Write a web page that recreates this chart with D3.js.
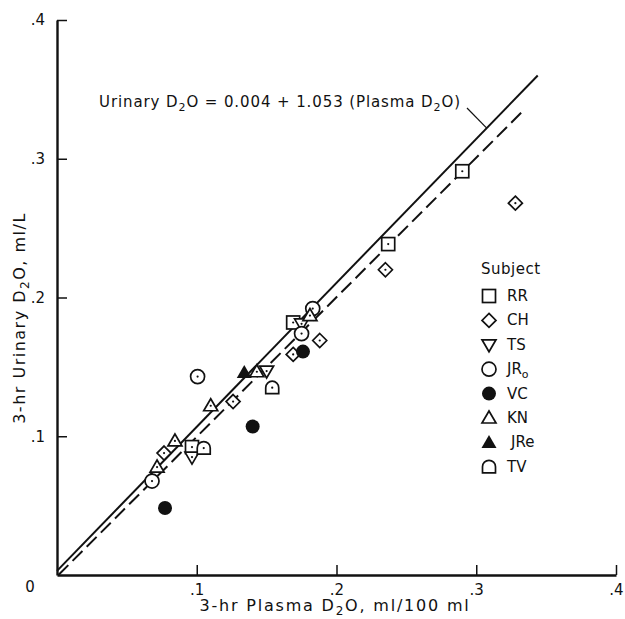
<!DOCTYPE html>
<html>
<head>
<meta charset="utf-8">
<script src="https://d3js.org/d3.v7.min.js"></script>
<style>
  body { margin: 0; background: #fff; }
  svg text { font-family: "DejaVu Sans", sans-serif; fill: #111; }
  .tick text { font-size: 15px; }
</style>
</head>
<body>
<div id="chart"></div>
<script>
// values (plasma D2O, urinary D2O)
const rr  = [[0.290, 0.291], [0.237, 0.2385], [0.169, 0.182], [0.0966, 0.0922]];
const ch  = [[0.328, 0.268], [0.235, 0.220], [0.188, 0.169], [0.169, 0.159], [0.126, 0.125], [0.0766, 0.0879]];
const ts  = [[0.175, 0.181], [0.150, 0.147], [0.0966, 0.085]];
const jro = [[0.183, 0.192], [0.175, 0.174], [0.1006, 0.143], [0.068, 0.0677]];
const vc  = [[0.176, 0.161], [0.140, 0.107], [0.0773, 0.0483]];
const kn  = [[0.181, 0.187], [0.143, 0.1465], [0.110, 0.122], [0.0844, 0.0966], [0.0716, 0.0778]];
const jre = [[0.134, 0.146]];
const tv  = [[0.154, 0.135], [0.105, 0.0915]];

const subjects = ['RR', 'CH', 'TS', 'JRo', 'VC', 'KN', 'JRe', 'TV'];
const symbolTypes = ['square', 'diamond', 'tridown', 'circle', 'dot', 'triangle', 'trifill', 'dome'];
const seriesData = [rr, ch, ts, jro, vc, kn, jre, tv];

const solidLine = [[0, 0.003], [0.344, 0.36]];
const dashedLine = [[0.001, 0], [0.333, 0.334]];

const tickVals = [0.1, 0.2, 0.3, 0.4];
const tickLabels = ['.1', '.2', '.3', '.4'];

const width = 625, height = 619;
const svg = d3.select('#chart').append('svg')
  .attr('width', width).attr('height', height);

const x = d3.scaleLinear().domain([0, 0.4]).range([57, 616]);
const y = d3.scaleLinear().domain([0, 0.4]).range([575, 20]);

// axes
const xAxis = svg.append('g').attr('transform', `translate(0,${y(0)})`)
  .call(d3.axisBottom(x).tickValues(tickVals).tickSize(-10).tickSizeOuter(0)
    .tickPadding(9).tickFormat((d, i) => tickLabels[i]));
const yAxis = svg.append('g').attr('transform', `translate(${x(0)},0)`)
  .call(d3.axisLeft(y).tickValues(tickVals).tickSize(-10).tickSizeOuter(0)
    .tickPadding(12).tickFormat((d, i) => tickLabels[i]));
[xAxis, yAxis].forEach(a => {
  a.select('.domain').attr('stroke', '#111').attr('stroke-width', 2.4);
  a.selectAll('.tick line').attr('stroke', '#111').attr('stroke-width', 1.5);
  a.selectAll('.tick text').attr('fill', '#111');
});
svg.append('text').attr('x', 30).attr('y', 592).attr('text-anchor', 'middle')
  .style('font-size', '15px').text('0');

// axis titles
const xt = svg.append('text').attr('x', 335).attr('y', 611).attr('text-anchor', 'middle')
  .style('font-size', '16px').style('letter-spacing', '1.8px');
xt.append('tspan').text('3-hr  Plasma  D');
xt.append('tspan').attr('dy', 4).style('font-size', '12px').text('2');
xt.append('tspan').attr('dy', -4).text('O,  ml/100 ml');

const yt = svg.append('text').attr('transform', 'translate(25,318) rotate(-90)')
  .attr('text-anchor', 'middle').style('font-size', '16px').style('letter-spacing', '1.5px');
yt.append('tspan').text('3-hr  Urinary  D');
yt.append('tspan').attr('dy', 4).style('font-size', '12px').text('2');
yt.append('tspan').attr('dy', -4).text('O,  ml/L');

// regression lines
const line = d3.line().x(d => x(d[0])).y(d => y(d[1]));
svg.append('path').datum(solidLine).attr('d', line)
  .attr('fill', 'none').attr('stroke', '#111').attr('stroke-width', 2);
svg.append('path').datum(dashedLine).attr('d', line)
  .attr('fill', 'none').attr('stroke', '#111').attr('stroke-width', 2)
  .attr('stroke-dasharray', '14,6');

// equation label with leader
const eq = svg.append('text').attr('x', 99).attr('y', 107)
  .style('font-size', '15px').style('letter-spacing', '0.9px');
eq.append('tspan').text('Urinary  D');
eq.append('tspan').attr('dy', 4).style('font-size', '11px').text('2');
eq.append('tspan').attr('dy', -4).text('O = 0.004 + 1.053 (Plasma  D');
eq.append('tspan').attr('dy', 4).style('font-size', '11px').text('2');
eq.append('tspan').attr('dy', -4).text('O)');
svg.append('path')
  .attr('d', `M467,108 L${x(0.3075)},${y(0.003 + 1.0378 * 0.3075)}`)
  .attr('stroke', '#111').attr('stroke-width', 1.2).attr('fill', 'none');

// marker drawing
function marker(g, type, withDot) {
  const sw = 1.7;
  if (type === 'square') {
    g.append('rect').attr('x', -6.5).attr('y', -6.5).attr('width', 13).attr('height', 13)
      .attr('fill', '#fff').attr('stroke', '#111').attr('stroke-width', sw);
  } else if (type === 'diamond') {
    g.append('path').attr('d', 'M0,-7 L7,0 L0,7 L-7,0 Z')
      .attr('fill', '#fff').attr('stroke', '#111').attr('stroke-width', sw);
  } else if (type === 'tridown') {
    g.append('path').attr('d', 'M-7,-5 L7,-5 L0,7 Z')
      .attr('fill', '#fff').attr('stroke', '#111').attr('stroke-width', sw);
  } else if (type === 'triangle') {
    g.append('path').attr('d', 'M-7,5 L7,5 L0,-7 Z')
      .attr('fill', '#fff').attr('stroke', '#111').attr('stroke-width', sw);
  } else if (type === 'trifill') {
    g.append('path').attr('d', 'M-7.5,5.5 L7.5,5.5 L0,-7.5 Z').attr('fill', '#111');
    return;
  } else if (type === 'circle') {
    g.append('circle').attr('r', 7)
      .attr('fill', '#fff').attr('stroke', '#111').attr('stroke-width', sw);
  } else if (type === 'dot') {
    g.append('circle').attr('r', 7).attr('fill', '#111');
    return;
  } else if (type === 'dome') {
    g.append('path').attr('d', 'M-6.5,6 L-6.5,0 A6.5,6.5 0 0 1 6.5,0 L6.5,6 Z')
      .attr('fill', '#fff').attr('stroke', '#111').attr('stroke-width', sw);
  }
  if (withDot) g.append('circle').attr('r', 1.1).attr('fill', '#111');
}

// points
seriesData.forEach((pts, i) => {
  svg.append('g').selectAll('g').data(pts).enter().append('g')
    .attr('transform', d => `translate(${x(d[0])},${y(d[1])})`)
    .each(function () { marker(d3.select(this), symbolTypes[i], true); });
});

// legend
svg.append('text').attr('x', 481).attr('y', 274).style('font-size', '15px')
  .style('letter-spacing', '0.5px').text('Subject');
subjects.forEach((s, i) => {
  const yy = 296 + i * 24.4;
  marker(svg.append('g').attr('transform', `translate(489,${yy})`), symbolTypes[i], false);
  const t = svg.append('text').attr('x', s === 'JRe' ? 511 : 507).attr('y', yy + 5)
    .style('font-size', '15px');
  if (s === 'JRo') {
    t.append('tspan').text('JR');
    t.append('tspan').attr('dy', 4).style('font-size', '11px').text('o');
  } else {
    t.text(s);
  }
});
</script>
</body>
</html>
